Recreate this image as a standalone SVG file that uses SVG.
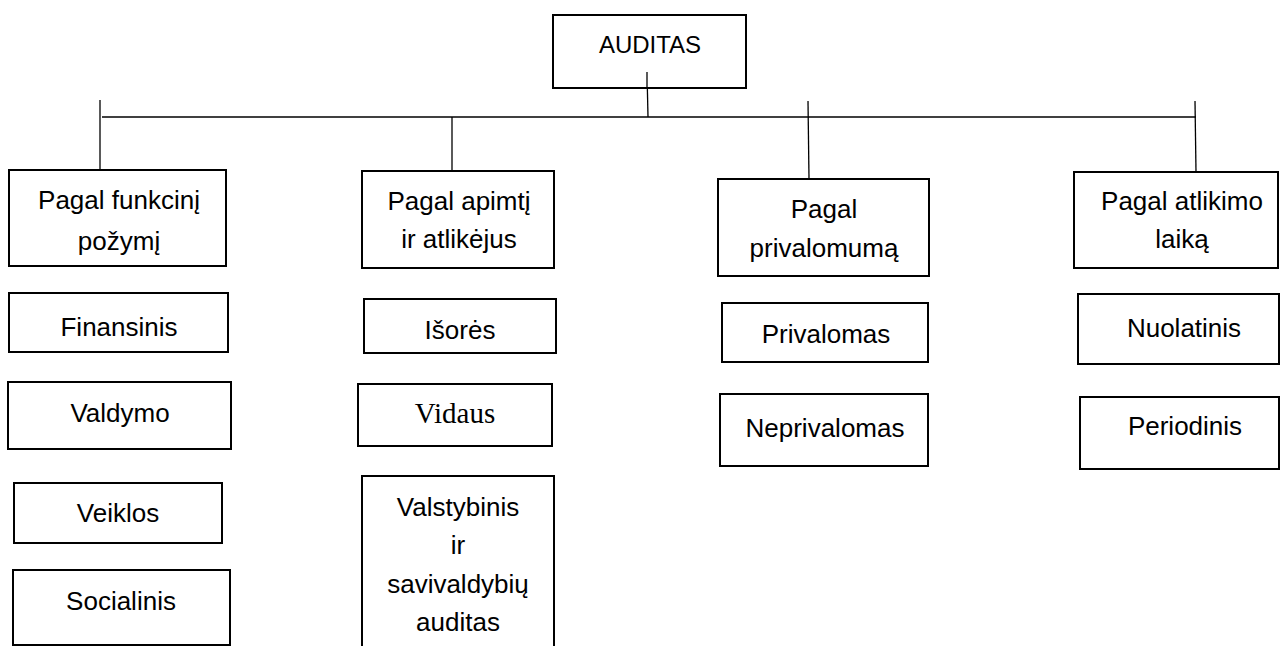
<svg xmlns="http://www.w3.org/2000/svg" width="1281" height="646" viewBox="0 0 1281 646">
<style>
  .box { fill: #ffffff; stroke: #000000; stroke-width: 2; }
  .t { font-family: "Liberation Sans", Arial, sans-serif; font-size: 26px; fill: #000000; text-anchor: middle; }
  .ts { font-family: "Liberation Serif", "Times New Roman", serif; font-size: 29px; fill: #000000; text-anchor: middle; }
  .ln { stroke: #000000; stroke-width: 1.3; fill: none; }
</style>
<rect width="1281" height="646" fill="#ffffff"/>
<g id="connectors">
  <line class="ln" x1="102" y1="117" x2="1196" y2="117"/>
  <line class="ln" x1="647" y1="72" x2="648" y2="117"/>
  <line class="ln" x1="100" y1="100" x2="100" y2="170"/>
  <line class="ln" x1="452" y1="117" x2="452" y2="171"/>
  <line class="ln" x1="808" y1="101" x2="809" y2="179"/>
  <line class="ln" x1="1195" y1="101" x2="1196" y2="172"/>
</g>
<g id="auditas">
  <rect class="box" x="553" y="15" width="193" height="73"/>
  <line class="ln" x1="647" y1="72" x2="647" y2="88"/>
  <text class="t" x="650" y="53" style="font-size:24px">AUDITAS</text>
</g>
<g id="pagal-funkcini">
  <rect class="box" x="9" y="170" width="217" height="96"/>
  <text class="t" x="119" y="209">Pagal funkcinį</text>
  <text class="t" x="119" y="250">požymį</text>
</g>
<g id="finansinis">
  <rect class="box" x="9" y="293" width="219" height="59"/>
  <text class="t" x="119" y="336">Finansinis</text>
</g>
<g id="valdymo">
  <rect class="box" x="8" y="382" width="223" height="67"/>
  <text class="t" x="120" y="422">Valdymo</text>
</g>
<g id="veiklos">
  <rect class="box" x="14" y="483" width="208" height="60"/>
  <text class="t" x="118" y="522">Veiklos</text>
</g>
<g id="socialinis">
  <rect class="box" x="13" y="570" width="217" height="75"/>
  <text class="t" x="121" y="610">Socialinis</text>
</g>
<g id="pagal-apimti">
  <rect class="box" x="362" y="171" width="192" height="97"/>
  <text class="t" x="459" y="210">Pagal apimtį</text>
  <text class="t" x="459" y="248">ir atlikėjus</text>
</g>
<g id="isores">
  <rect class="box" x="364" y="299" width="192" height="54"/>
  <text class="t" x="460" y="339">Išorės</text>
</g>
<g id="vidaus">
  <rect class="box" x="358" y="384" width="194" height="62"/>
  <text class="ts" x="455" y="423">Vidaus</text>
</g>
<g id="valstybinis">
  <rect class="box" x="362" y="476" width="192" height="180"/>
  <text class="t" x="458" y="516">Valstybinis</text>
  <text class="t" x="458" y="554">ir</text>
  <text class="t" x="458" y="593">savivaldybių</text>
  <text class="t" x="458" y="631">auditas</text>
</g>
<g id="pagal-privalomuma">
  <rect class="box" x="718" y="179" width="211" height="97"/>
  <text class="t" x="824" y="218">Pagal</text>
  <text class="t" x="824" y="257">privalomumą</text>
</g>
<g id="privalomas">
  <rect class="box" x="722" y="303" width="206" height="59"/>
  <text class="t" x="826" y="343">Privalomas</text>
</g>
<g id="neprivalomas">
  <rect class="box" x="720" y="394" width="208" height="72"/>
  <text class="t" x="825" y="437">Neprivalomas</text>
</g>
<g id="pagal-atlikimo">
  <rect class="box" x="1074" y="172" width="204" height="96"/>
  <text class="t" x="1182" y="210">Pagal atlikimo</text>
  <text class="t" x="1182" y="248">laiką</text>
</g>
<g id="nuolatinis">
  <rect class="box" x="1078" y="294" width="201" height="70"/>
  <text class="t" x="1184" y="337">Nuolatinis</text>
</g>
<g id="periodinis">
  <rect class="box" x="1080" y="397" width="199" height="72"/>
  <text class="t" x="1185" y="435">Periodinis</text>
</g>
</svg>
